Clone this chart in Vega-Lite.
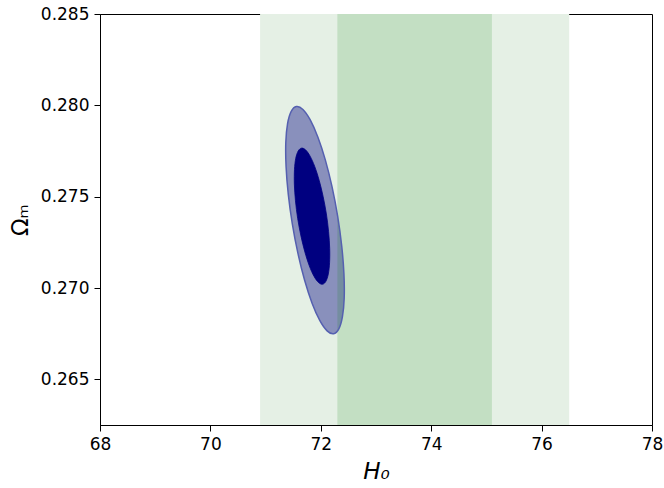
{
  "$schema": "https://vega.github.io/schema/vega-lite/v6.json",
  "width": 552,
  "height": 411,
  "autosize": "none",
  "padding": {"left": 100, "top": 14, "right": 12, "bottom": 63},
  "background": "white",
  "config": {
    "view": {"stroke": "black", "strokeWidth": 1},
    "axis": {
      "grid": false,
      "domainColor": "black",
      "tickColor": "black",
      "labelColor": "black",
      "titleColor": "black",
      "labelFont": "DejaVu Sans",
      "titleFont": "DejaVu Sans",
      "labelFontSize": 17,
      "titleFontSize": 23,
      "titleFontWeight": "normal",
      "tickSize": 6,
      "labelPadding": 5,
      "labelFlush": false,
      "labelOverlap": false
    }
  },
  "datasets": {
    "bands": [
      {"band": "outer", "lo": 70.9, "hi": 76.5},
      {"band": "inner", "lo": 72.3, "hi": 75.1}
    ],
    "ell": [
      {"level": "outer", "i": 0, "x": 71.558, "y": 0.279931},
      {"level": "outer", "i": 1, "x": 71.676, "y": 0.279772},
      {"level": "outer", "i": 2, "x": 71.809, "y": 0.2792},
      {"level": "outer", "i": 3, "x": 71.948, "y": 0.278253},
      {"level": "outer", "i": 4, "x": 72.083, "y": 0.276999},
      {"level": "outer", "i": 5, "x": 72.205, "y": 0.275519},
      {"level": "outer", "i": 6, "x": 72.306, "y": 0.273916},
      {"level": "outer", "i": 7, "x": 72.379, "y": 0.272299},
      {"level": "outer", "i": 8, "x": 72.419, "y": 0.270779},
      {"level": "outer", "i": 9, "x": 72.424, "y": 0.269459},
      {"level": "outer", "i": 10, "x": 72.392, "y": 0.268428},
      {"level": "outer", "i": 11, "x": 72.327, "y": 0.267758},
      {"level": "outer", "i": 12, "x": 72.232, "y": 0.267493},
      {"level": "outer", "i": 13, "x": 72.114, "y": 0.267652},
      {"level": "outer", "i": 14, "x": 71.981, "y": 0.268224},
      {"level": "outer", "i": 15, "x": 71.842, "y": 0.269171},
      {"level": "outer", "i": 16, "x": 71.707, "y": 0.270425},
      {"level": "outer", "i": 17, "x": 71.585, "y": 0.271905},
      {"level": "outer", "i": 18, "x": 71.484, "y": 0.273508},
      {"level": "outer", "i": 19, "x": 71.411, "y": 0.275125},
      {"level": "outer", "i": 20, "x": 71.371, "y": 0.276645},
      {"level": "outer", "i": 21, "x": 71.366, "y": 0.277965},
      {"level": "outer", "i": 22, "x": 71.398, "y": 0.278996},
      {"level": "outer", "i": 23, "x": 71.464, "y": 0.279666},
      {"level": "inner", "i": 0, "x": 71.65, "y": 0.277657},
      {"level": "inner", "i": 1, "x": 71.724, "y": 0.277562},
      {"level": "inner", "i": 2, "x": 71.806, "y": 0.277219},
      {"level": "inner", "i": 3, "x": 71.89, "y": 0.276652},
      {"level": "inner", "i": 4, "x": 71.97, "y": 0.2759},
      {"level": "inner", "i": 5, "x": 72.042, "y": 0.275013},
      {"level": "inner", "i": 6, "x": 72.101, "y": 0.274054},
      {"level": "inner", "i": 7, "x": 72.141, "y": 0.273085},
      {"level": "inner", "i": 8, "x": 72.161, "y": 0.272174},
      {"level": "inner", "i": 9, "x": 72.159, "y": 0.271384},
      {"level": "inner", "i": 10, "x": 72.136, "y": 0.270767},
      {"level": "inner", "i": 11, "x": 72.092, "y": 0.270366},
      {"level": "inner", "i": 12, "x": 72.032, "y": 0.270207},
      {"level": "inner", "i": 13, "x": 71.958, "y": 0.270302},
      {"level": "inner", "i": 14, "x": 71.876, "y": 0.270645},
      {"level": "inner", "i": 15, "x": 71.792, "y": 0.271212},
      {"level": "inner", "i": 16, "x": 71.712, "y": 0.271964},
      {"level": "inner", "i": 17, "x": 71.64, "y": 0.272851},
      {"level": "inner", "i": 18, "x": 71.581, "y": 0.27381},
      {"level": "inner", "i": 19, "x": 71.541, "y": 0.274779},
      {"level": "inner", "i": 20, "x": 71.521, "y": 0.27569},
      {"level": "inner", "i": 21, "x": 71.523, "y": 0.27648},
      {"level": "inner", "i": 22, "x": 71.546, "y": 0.277097},
      {"level": "inner", "i": 23, "x": 71.59, "y": 0.277498}
    ]
  },
  "layer": [
    {
      "data": {"name": "bands"},
      "transform": [{"filter": "datum.band === 'outer'"}],
      "mark": {"type": "rect", "fill": "#e5f0e5", "stroke": null},
      "encoding": {
        "x": {"field": "lo", "type": "quantitative", "scale": {"domain": [68, 78], "nice": false, "zero": false},
              "axis": {"values": [68, 70, 72, 74, 76, 78], "format": "d", "title": "H₀", "titleFontStyle": "italic", "titlePadding": 8}},
        "x2": {"field": "hi"}
      }
    },
    {
      "data": {"name": "ell"},
      "transform": [{"filter": "datum.level === 'outer'"}],
      "mark": {"type": "line", "interpolate": "cardinal-closed", "fill": "#000080", "fillOpacity": 0.4, "strokeWidth": 0},
      "encoding": {
        "x": {"field": "x", "type": "quantitative"},
        "y": {"field": "y", "type": "quantitative", "scale": {"domain": [0.2625, 0.285], "nice": false, "zero": false},
              "axis": {"values": [0.265, 0.27, 0.275, 0.28, 0.285], "format": ".3f", "title": "Ωₘ", "titlePadding": 8}},
        "order": {"field": "i", "type": "quantitative"}
      }
    },
    {
      "data": {"name": "bands"},
      "transform": [{"filter": "datum.band === 'inner'"}],
      "mark": {"type": "rect", "fill": "#008000", "opacity": 0.15, "stroke": null},
      "encoding": {
        "x": {"field": "lo", "type": "quantitative"},
        "x2": {"field": "hi"}
      }
    },
    {
      "data": {"name": "ell"},
      "transform": [{"filter": "datum.level === 'outer'"}],
      "mark": {"type": "line", "interpolate": "cardinal-closed", "stroke": "#5560b0", "strokeWidth": 1.5},
      "encoding": {
        "x": {"field": "x", "type": "quantitative"},
        "y": {"field": "y", "type": "quantitative"},
        "order": {"field": "i", "type": "quantitative"}
      }
    },
    {
      "data": {"name": "ell"},
      "transform": [{"filter": "datum.level === 'inner'"}],
      "mark": {"type": "line", "interpolate": "cardinal-closed", "fill": "#000080", "stroke": "#000080", "strokeWidth": 0.8},
      "encoding": {
        "x": {"field": "x", "type": "quantitative"},
        "y": {"field": "y", "type": "quantitative"},
        "order": {"field": "i", "type": "quantitative"}
      }
    }
  ]
}
